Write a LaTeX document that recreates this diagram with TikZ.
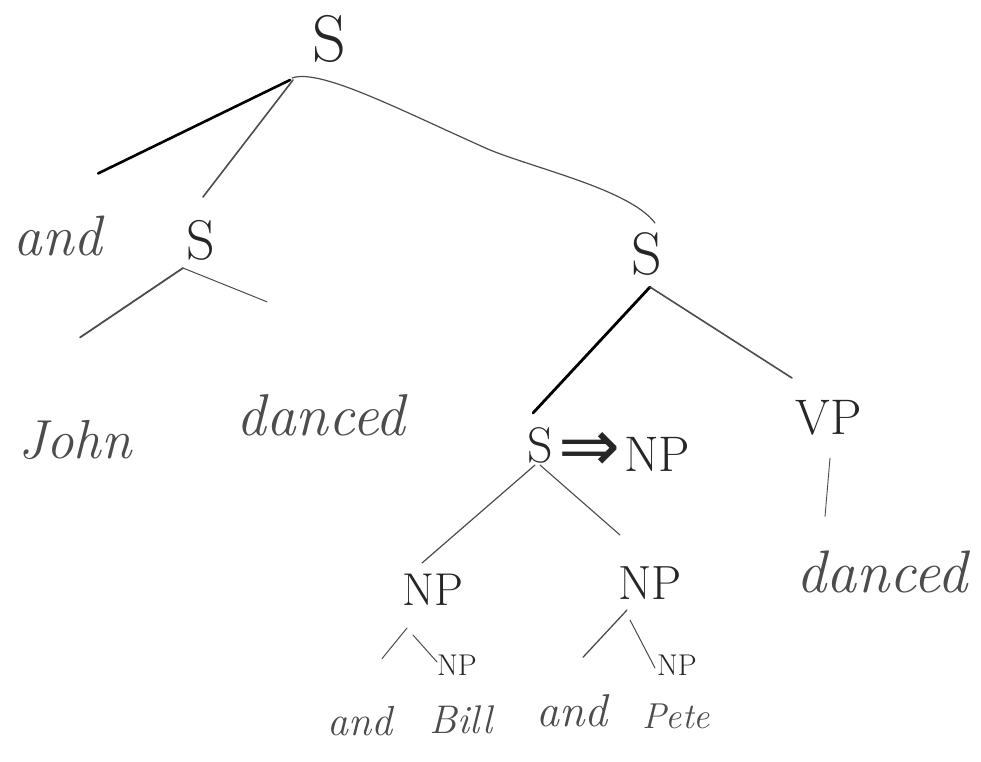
\documentclass[tikz,border=0pt]{standalone}
\usepackage{fontspec}
\newfontfamily\symfont{DejaVu Sans}
\usetikzlibrary{calc}
\tikzset{
  lab/.style={inner sep=0pt, text=black!85, font=\fontsize{#1}{#1}\selectfont},
  wrd/.style={inner sep=0pt, anchor=base, text=black!70, font=\fontsize{#1}{#1}\selectfont\itshape},
  pen/.style={line width=#1, draw=black!70, line cap=round},
  inkpen/.style={line width=#1, draw=black, line cap=round}
}
\begin{document}
\begin{tikzpicture}[x=1pt,y=-1pt]
\useasboundingbox[fill=white] (0,0) rectangle (981,761);
% nodes
\node[lab=66] (root) at (329,39) {S};
\node[wrd=57] (and) at (58,255) {and};
\node[lab=56] (s1) at (201,240) {S};
\node[wrd=55] (john) at (75,458) {John};
\node[wrd=59] (danced1) at (321,435) {danced};
\node[lab=60] (s2) at (647,254) {S};
\node[lab=50] (s3) at (540,445) {S};
\node[inner sep=0pt, anchor=west, text=black!85] (impl) at (558,452)
  {{\symfont\fontsize{74}{74}\selectfont ⇒}\kern4pt{\fontsize{50}{50}\selectfont NP}};
\node[lab=50] (vp) at (829,418) {VP};
\node[wrd=60] (danced2) at (882,592) {danced};
\node[lab=46] (npl) at (433,590) {NP};
\node[lab=48] (npr) at (650,583) {NP};
\node[lab=30] (npsl) at (457,665) {NP};
\node[lab=30] (npsr) at (677,665) {NP};
\node[wrd=42] (and1) at (360,735) {and};
\node[wrd=40] (bill) at (461,733) {Bill};
\node[wrd=46] (and2) at (572,726) {and};
\node[wrd=36] (pete) at (676,728) {Pete};
% connectors from the root
\draw[inkpen=2.6pt] ($(root)+(-39,41)$) -- ($(and)+(40,-62)$);
\draw[pen=1.6pt] ($(root)+(-36,41)$) -- ($(s1)+(2,-43)$);
\draw[pen=1.2pt] ($(root)+(-37,39)$) .. controls (320,68) and (400,110) .. (490,150)
  .. controls (540,170) and (630,190) .. ($(s2)+(8,-31)$);
% left S
\draw[pen=1.8pt] ($(s1)+(-18,28)$) -- ($(john)+(5,-102)$);
\draw[pen=1pt] ($(s1)+(-18,28)$) -- ($(danced1)+(-54,-113)$);
% right S
\draw[inkpen=2.8pt] ($(s2)+(3,33)$) -- ($(s3)+(-7,-32)$);
\draw[pen=1.6pt] ($(s2)+(3,33)$) -- ($(vp)+(-37,-40)$);
\draw[pen=0.9pt] ($(vp)+(1,40)$) -- ($(danced2)+(-57,-55)$);
% S => NP
\draw[pen=1.2pt] ($(s3)+(-5,20)$) -- ($(npl)+(-11,-27)$);
\draw[pen=1.1pt] ($(s3)+(0,20)$) -- ($(npr)+(-30,-48)$);
% lower NPs
\draw[pen=1pt] ($(npl)+(-26,38)$) -- ($(and1)+(22,-62)$);
\draw[pen=1pt] ($(npl)+(-20,45)$) -- ($(npsl)+(-20,-3)$);
\draw[pen=1.3pt] ($(npr)+(-23,27)$) -- ($(and2)+(11,-53)$);
\draw[pen=1pt] ($(npr)+(-20,37)$) -- ($(npsr)+(-22,3)$);
\end{tikzpicture}
\end{document}
